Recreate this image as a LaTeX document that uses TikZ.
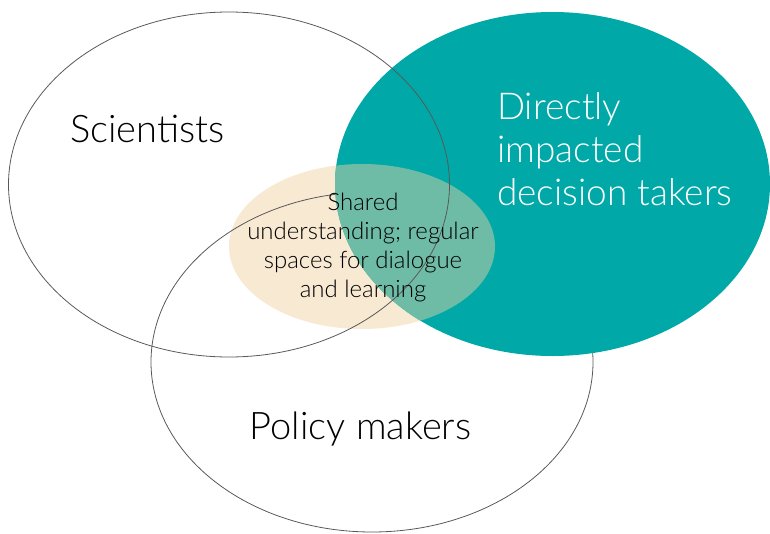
\documentclass[tikz,border=0pt]{standalone}
\usepackage{fontspec}
\setmainfont{Lato Light}
\begin{document}
\begin{tikzpicture}[x=1pt,y=-1pt,
  outline/.style={draw=black!65, line width=0.8pt},
  lbl/.style={inner sep=0pt, font=\fontsize{38}{43}\selectfont},
  smalllbl/.style={inner sep=0pt, align=center, font=\fontsize{24}{29}\selectfont}]
\definecolor{tealc}{HTML}{00A9A7}
\definecolor{creamc}{HTML}{F8E9D3}
\definecolor{mixc}{HTML}{6FBCA6}
\useasboundingbox (0,0) rectangle (770,533);
% shared ellipse
\fill[creamc] (362,246.5) ellipse [x radius=133pt, y radius=82.5pt];
% policy makers ellipse
\draw[outline] (372,362) ellipse [x radius=221pt, y radius=170pt];
% directly impacted ellipse
\fill[tealc] (552.5,184) ellipse [x radius=217.5pt, y radius=172pt];
\begin{scope}
  \clip (552.5,184) ellipse [x radius=217.5pt, y radius=172pt];
  \fill[mixc] (362,246.5) ellipse [x radius=133pt, y radius=82.5pt];
\end{scope}
% scientists ellipse
\draw[outline] (229,184.5) ellipse [x radius=220.5pt, y radius=172.5pt];
% labels
\node[lbl, anchor=base] (scientists) at (147.5,142) {Scientists};
\node[lbl, anchor=base] (policy) at (360.5,439) {Policy makers};
\node[lbl, anchor=north west, align=left, text=white, font=\fontsize{37}{43}\selectfont] (direct) at (497,92)
  {Directly\\impacted\\decision takers};
\node[smalllbl, anchor=north] (shared) at (363,193)
  {Shared\\understanding; regular\\spaces for dialogue\\and learning};
\end{tikzpicture}
\end{document}
